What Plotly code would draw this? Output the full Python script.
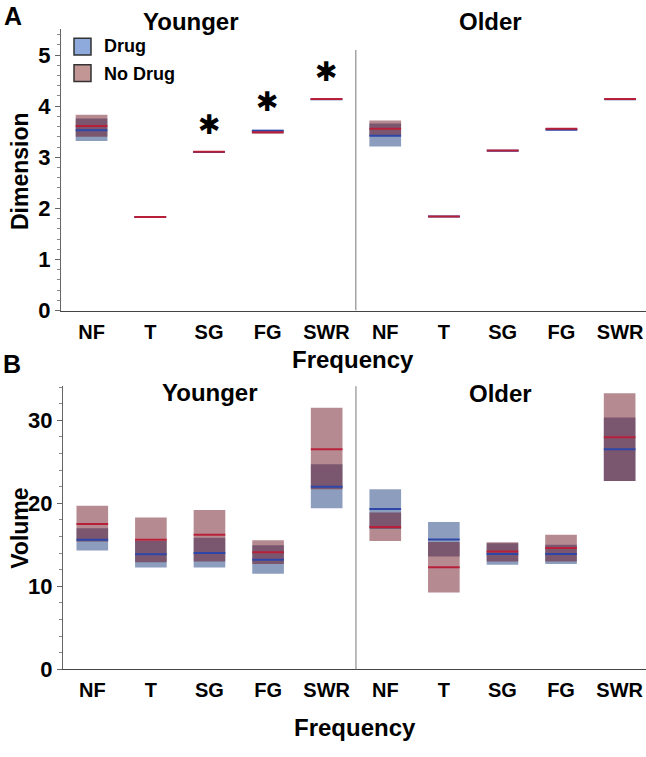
import plotly.graph_objects as go

W, H = 646, 757

# ---------------- data ----------------
cats = ["NF", "T", "SG", "FG", "SWR"]
groups = ["Younger", "Older"]
tick_labels = cats + cats

# Panel A: Dimension (Younger NF..SWR, Older NF..SWR)
dim_drug_lo = [3.32, 1.82, 3.10, 3.50, 4.13, 3.21, 1.83, 3.12, 3.53, 4.13]
dim_drug_hi = [3.76, 1.84, 3.11, 3.54, 4.14, 3.66, 1.85, 3.13, 3.55, 4.14]
dim_drug_med = [3.53, 1.83, 3.105, 3.52, 4.135, 3.42, 1.84, 3.125, 3.54, 4.135]
dim_nodrug_lo = [3.40, 1.82, 3.10, 3.46, 4.13, 3.42, 1.83, 3.12, 3.55, 4.13]
dim_nodrug_hi = [3.83, 1.84, 3.12, 3.52, 4.15, 3.72, 1.85, 3.14, 3.57, 4.15]
dim_nodrug_med = [3.61, 1.83, 3.11, 3.49, 4.14, 3.56, 1.84, 3.13, 3.56, 4.14]

# significance markers (panel A, younger)
sig_cats = [2, 3, 4]
sig_y = [3.64, 4.09, 4.68]

# Panel B: Volume
vol_drug_lo = [14.3, 12.25, 12.25, 11.5, 19.4, 16.9, 13.6, 12.6, 12.7, 22.7]
vol_drug_hi = [17.0, 15.45, 15.85, 14.95, 24.7, 21.7, 17.75, 15.2, 15.0, 30.35]
vol_drug_med = [15.6, 13.85, 14.0, 13.2, 22.0, 19.3, 15.65, 13.9, 13.9, 26.5]
vol_nodrug_lo = [15.4, 12.9, 13.0, 12.7, 21.7, 15.45, 9.25, 13.0, 13.0, 22.7]
vol_nodrug_hi = [19.7, 18.3, 19.2, 15.55, 31.5, 18.9, 15.35, 15.3, 16.2, 33.25]
vol_nodrug_med = [17.5, 15.6, 16.2, 14.1, 26.5, 17.15, 12.3, 14.2, 14.6, 27.95]

# ---------------- style ----------------
FONT = "Liberation Sans"
DRUG_FILL = "rgba(15,51,120,0.48)"
NODRUG_FILL = "rgba(103,11,26,0.48)"
DRUG_LINE = "#2e46a8"
NODRUG_LINE = "#b8203a"
BOX_W = 0.54

xs = list(range(len(tick_labels)))


def seg(vals):
    x, y = [], []
    for i, v in zip(xs, vals):
        x += [i - BOX_W / 2, i + BOX_W / 2, None]
        y += [v, v, None]
    return x, y


fig = go.Figure()


def add_panel(xa, ya, dlo, dhi, dmed, nlo, nhi, nmed):
    fig.add_trace(go.Bar(x=xs, y=[h - l for l, h in zip(dlo, dhi)], base=dlo,
                         width=BOX_W, marker=dict(color=DRUG_FILL, line=dict(width=0)),
                         xaxis=xa, yaxis=ya, showlegend=False, name="Drug"))
    fig.add_trace(go.Bar(x=xs, y=[h - l for l, h in zip(nlo, nhi)], base=nlo,
                         width=BOX_W, marker=dict(color=NODRUG_FILL, line=dict(width=0)),
                         xaxis=xa, yaxis=ya, showlegend=False, name="No Drug"))
    x, y = seg(dmed)
    fig.add_trace(go.Scatter(x=x, y=y, mode="lines", line=dict(color=DRUG_LINE, width=2),
                             xaxis=xa, yaxis=ya, showlegend=False, hoverinfo="skip"))
    x, y = seg(nmed)
    fig.add_trace(go.Scatter(x=x, y=y, mode="lines", line=dict(color=NODRUG_LINE, width=2),
                             xaxis=xa, yaxis=ya, showlegend=False, hoverinfo="skip"))


add_panel("x", "y", dim_drug_lo, dim_drug_hi, dim_drug_med,
          dim_nodrug_lo, dim_nodrug_hi, dim_nodrug_med)
add_panel("x2", "y2", vol_drug_lo, vol_drug_hi, vol_drug_med,
          vol_nodrug_lo, vol_nodrug_hi, vol_nodrug_med)


def px(x):
    return x / W


def py(y):
    return 1 - y / H


tickfont_x = dict(family=FONT, size=20, color="black", weight="bold")
tickfont_y = dict(family=FONT, size=22, color="black", weight="bold")

xcommon = dict(tickmode="array", tickvals=xs, ticktext=tick_labels, showline=True,
               linecolor="#444", linewidth=1, ticks="", showgrid=False, zeroline=False,
               tickfont=tickfont_x, ticklabelstandoff=3)
ycommon = dict(showline=True, linecolor="#666", linewidth=1, ticks="outside", ticklen=5,
               tickcolor="#666", showgrid=False, zeroline=False, tickfont=tickfont_y)

fig.update_layout(
    width=W, height=H, margin=dict(l=0, r=0, t=0, b=0),
    paper_bgcolor="white", plot_bgcolor="white", barmode="overlay", showlegend=False,
    xaxis=dict(domain=[px(61), 1], range=[-0.52, 9.44], anchor="y", **xcommon),
    yaxis=dict(domain=[py(316), py(30)], range=[0, 5.5], anchor="x", dtick=1,
               minor=dict(dtick=0.2, ticks="outside", ticklen=3, tickcolor="#888"), **ycommon),
    xaxis2=dict(domain=[px(63), 1], range=[-0.5, 9.45], anchor="y2", **xcommon),
    yaxis2=dict(domain=[py(681), py(393)], range=[0, 34.1], anchor="x2", dtick=10,
                minor=dict(dtick=2, ticks="outside", ticklen=3, tickcolor="#888"), **ycommon),
)

# divider lines between Younger and Older
fig.add_shape(type="line", xref="x", yref="y", x0=4.5, x1=4.5, y0=0, y1=5.1,
              line=dict(color="#777", width=1))
fig.add_shape(type="line", xref="x2", yref="y2 domain", x0=4.5, x1=4.5, y0=0, y1=1,
              line=dict(color="#777", width=1))

ann = []


def text(x, y, s, size, xanchor="center", angle=0, weight="bold"):
    ann.append(dict(x=px(x), y=py(y), xref="paper", yref="paper", text=s, showarrow=False,
                    xanchor=xanchor, yanchor="middle", textangle=angle,
                    font=dict(family=FONT, size=size, color="black", weight=weight)))


text(13, 16, "A", 25)
text(12, 370, "B", 25)
text(191, 22, groups[0], 24)
text(490, 22, groups[1], 24)
text(210, 399, groups[0], 24)
text(500, 400, groups[1], 24)
text(353, 366, "Frequency", 24)
text(355, 740, "Frequency", 24)
text(20, 174, "Dimension", 23, angle=-90)
text(20, 538, "Volume", 23, angle=-90)
text(102, 47, "Drug", 18, xanchor="left")
text(102, 75, "No Drug", 18, xanchor="left")

for c, yv in zip(sig_cats, sig_y):
    ann.append(dict(x=c, y=yv, xref="x", yref="y", text="✱", showarrow=False,
                    xanchor="center", yanchor="middle",
                    font=dict(family="DejaVu Sans", size=27, color="black")))

fig.update_layout(annotations=ann)

# legend swatches
fig.add_shape(type="rect", xref="paper", yref="paper", x0=px(74), x1=px(91), y0=py(56), y1=py(39),
              fillcolor="#8eaadc", line=dict(color="#333", width=1.5))
fig.add_shape(type="rect", xref="paper", yref="paper", x0=px(74), x1=px(91), y0=py(83), y1=py(66),
              fillcolor="#c39696", line=dict(color="#333", width=1.5))

fig.write_html("out.html")
